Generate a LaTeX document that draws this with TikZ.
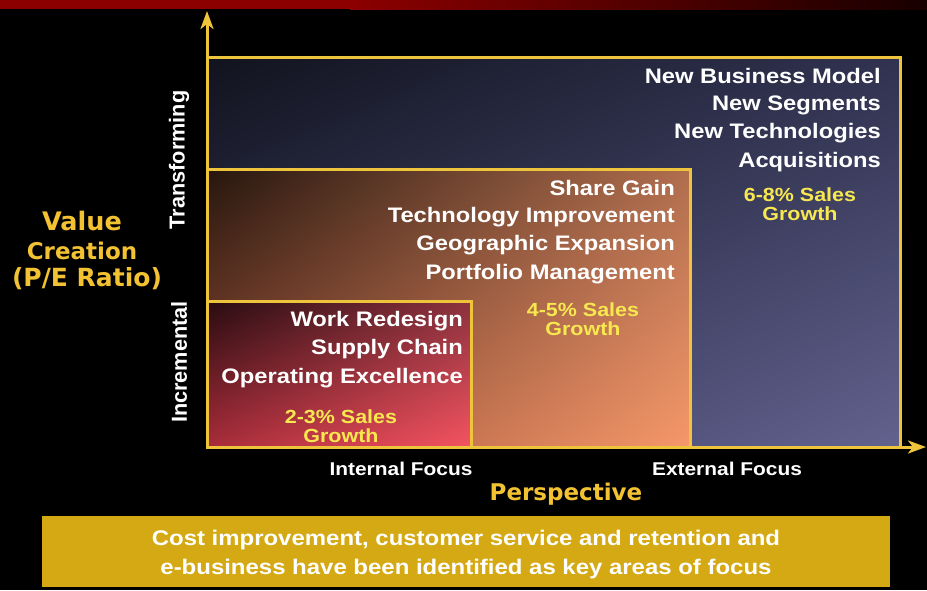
\documentclass[tikz,border=0pt]{standalone}
\usepackage{fontspec}
\setmainfont{Liberation Sans}
\newfontfamily\widefont[FakeStretch=1.13]{Liberation Sans}
\newfontfamily\verdfont{DejaVu Sans}
\usetikzlibrary{arrows.meta,shadings}
\definecolor{axisyellow}{HTML}{EEC43C}
\definecolor{goldtxt}{HTML}{F2C232}
\definecolor{salestxt}{HTML}{F8E850}
\definecolor{bandgold}{HTML}{D4A914}
\definecolor{barred}{HTML}{8C0000}
\definecolor{bardark}{HTML}{180000}
\definecolor{bUL}{HTML}{11131E}
\definecolor{bUR}{HTML}{303250}
\definecolor{bLL}{HTML}{3A3C60}
\definecolor{bLR}{HTML}{62628E}
\definecolor{oUL}{HTML}{26160E}
\definecolor{oUR}{HTML}{B06E4E}
\definecolor{oLL}{HTML}{9A5038}
\definecolor{oLR}{HTML}{F6986A}
\definecolor{rUL}{HTML}{280C10}
\definecolor{rUR}{HTML}{8C323E}
\definecolor{rLL}{HTML}{A82C3A}
\definecolor{rLR}{HTML}{F45460}
\begin{document}
\begin{tikzpicture}[x=1pt,y=-1pt,
  boxline/.style={draw=axisyellow,line width=3pt},
  item/.style={anchor=east,text=white,font=\widefont\bfseries\fontsize{21}{24}\selectfont,inner sep=0pt},
  sales/.style={align=center,text=salestxt,font=\widefont\bfseries\fontsize{19}{19}\selectfont,inner sep=0pt},
  axislabel/.style={text=white,font=\widefont\bfseries\fontsize{18.5}{20}\selectfont,inner sep=0pt},
  ylabel/.style={text=white,font=\bfseries\fontsize{21.7}{22}\selectfont,inner sep=0pt,rotate=90},
  goldlabel/.style={text=goldtxt,inner sep=0pt},
  axisline/.style={draw=axisyellow,line width=3pt,-{Stealth[length=18pt,width=13pt,inset=5pt]}}]
\fill[black] (0,0) rectangle (927,590);
\useasboundingbox (0,0) rectangle (927,590);
% top bar
\shade[left color=barred, right color=bardark] (350,0) rectangle (927,9);
\fill[barred] (0,0) rectangle (351,9);
% boxes
\shade[upper left=bUL, upper right=bUR, lower left=bLL, lower right=bLR] (207,57) rectangle (900,447);
\draw[boxline] (207,57) rectangle (900,447);
\shade[upper left=oUL, upper right=oUR, lower left=oLL, lower right=oLR] (207,169) rectangle (690,447);
\draw[boxline] (207,169) rectangle (690,447);
\shade[upper left=rUL, upper right=rUR, lower left=rLL, lower right=rLR] (207,301) rectangle (471,447);
\draw[boxline] (207,301) rectangle (471,447);
% axes
\coordinate (origin) at (207,447);
\coordinate (ytip) at (207,11);
\coordinate (xtip) at (926,447);
\draw[axisline] (origin) -- (ytip);
\draw[axisline] ([xshift=-1.5pt]origin) -- (xtip);
% outer box texts
\node[item] (nbm) at (881,76) {New Business Model};
\node[item] (ns) at (881,105) {New Segments};
\node[item] (nt) at (881,133) {New Technologies};
\node[item] (acq) at (881,162) {Acquisitions};
\node[sales] (s68) at (800,204) {6-8\% Sales\\Growth};
% middle box texts
\node[item] (sg) at (675,188) {Share Gain};
\node[item] (ti) at (675,217) {Technology Improvement};
\node[item] (ge) at (675,245) {Geographic Expansion};
\node[item] (pm) at (675,274) {Portfolio Management};
\node[sales] (s45) at (583,319) {4-5\% Sales\\Growth};
% small box texts
\node[item] (wr) at (463,321) {Work Redesign};
\node[item] (sc) at (463,349) {Supply Chain};
\node[item] (oe) at (463,378) {Operating Excellence};
\node[sales] (s23) at (341,426) {2-3\% Sales\\Growth};
% axis labels
\node[ylabel] (trans) at (179,160) {Transforming};
\node[ylabel] (incr) at (179,362) {Incremental};
\node[goldlabel,font=\verdfont\bfseries\fontsize{25.5}{26}\selectfont] (value) at (82,221) {Value};
\node[goldlabel,font=\verdfont\bfseries\fontsize{23}{24}\selectfont] (creation) at (82,251) {Creation};
\node[goldlabel,font=\verdfont\bfseries\fontsize{25}{26}\selectfont] (pe) at (87,279) {(P/E Ratio)};
\node[axislabel] (internal) at (401,469) {Internal Focus};
\node[axislabel] (external) at (727,469) {External Focus};
\node[goldlabel,font=\verdfont\bfseries\fontsize{23}{24}\selectfont] (persp) at (566,494) {Perspective};
% bottom band
\fill[bandgold] (42,516) rectangle (890,587);
\node[text=white,font=\widefont\bfseries\fontsize{21.2}{29}\selectfont,align=center,inner sep=0pt] (note) at (466,554.5) {Cost improvement, customer service and retention and\\e-business have been identified as key areas of focus};
\end{tikzpicture}
\end{document}
